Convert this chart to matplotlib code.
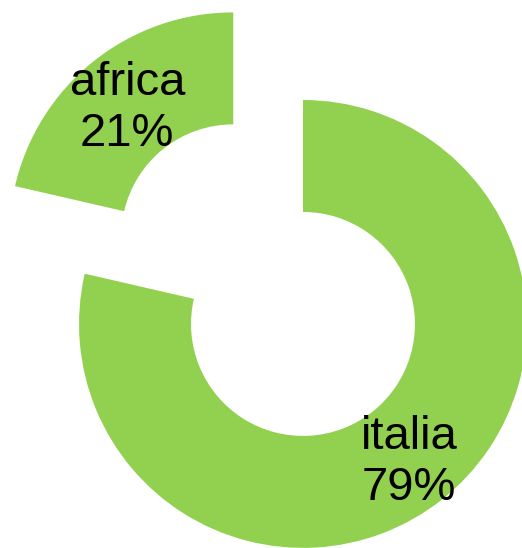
import matplotlib.pyplot as plt

# data
labels = ["italia", "africa"]
shares = [78.6, 21.4]
explode = [0, 0.5]
colors = ["#92D050", "#92D050"]

plt.rcParams['font.family'] = ['Liberation Sans', 'DejaVu Sans']

fig = plt.figure(figsize=(5.22, 5.48), dpi=100)
ax = fig.add_axes([0, 0, 1, 1])

names = iter(labels)
def fmt(pct):
    return f"{next(names)}\n{pct:.0f}%"

wedges, texts, autotexts = ax.pie(
    shares, explode=explode, colors=colors, startangle=90, counterclock=False,
    radius=1.0, wedgeprops=dict(width=0.5, linewidth=0),
    autopct=fmt, pctdistance=0.76,
    textprops=dict(fontsize=34, color="black", linespacing=1.2))

# labels sit a touch lower in the original
for t in autotexts:
    x, y = t.get_position()
    t.set_position((x, y - 0.025))

ax.set_aspect('equal')
ax.set_xlim(-1.353, 0.978)
ax.set_ylim(-1.0, 1.446)
ax.axis('off')

plt.savefig("out.png", dpi=100)
